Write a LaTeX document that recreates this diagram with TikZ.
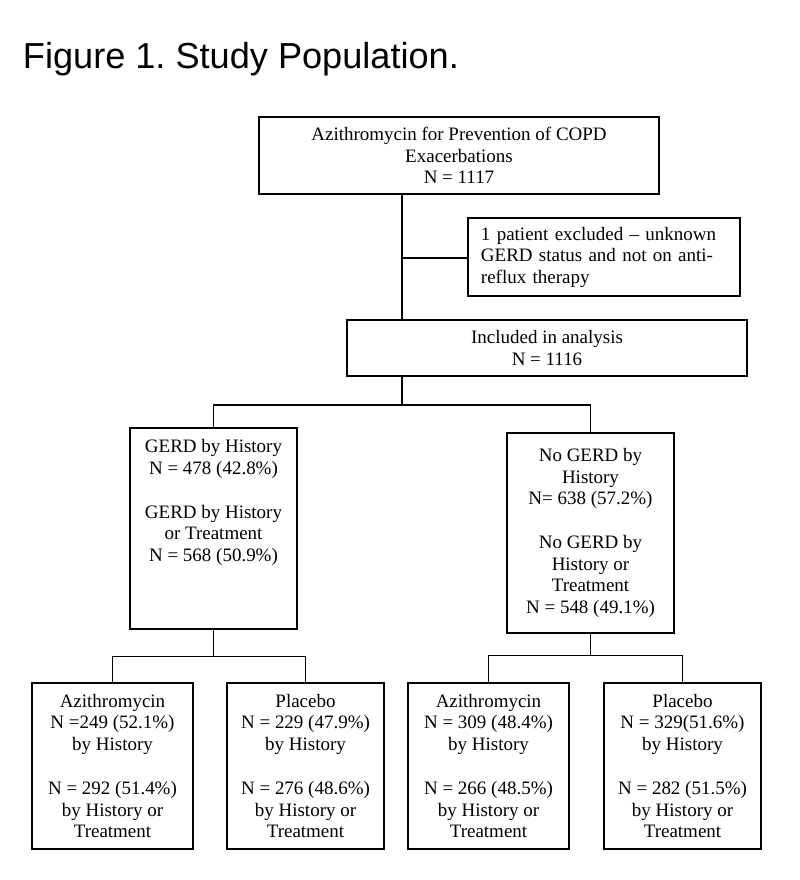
\documentclass[tikz,border=0pt]{standalone}
\usepackage{fontspec}
\setmainfont{Liberation Serif}
\newfontfamily\titlefont{Liberation Sans}
\frenchspacing

\begin{document}
\begin{tikzpicture}[x=0.025cm,y=-0.025cm,
        box/.style={draw,line width=1pt,align=center,inner sep=0pt,font=\fontsize{13.5}{15.3}\selectfont},
        link/.style={line width=1pt}]
    \useasboundingbox (0,0) rectangle (800,880);

    \node[anchor=base west,font=\titlefont\fontsize{25.7}{30}\selectfont] (title) at (18,69) {Figure 1. Study Population.};

    % top of the flow
    \node[box,minimum width=10cm,minimum height=1.925cm] (top) at (459,155.5)
        {Azithromycin for Prevention of COPD\\Exacerbations\\N = 1117};
    \node[box,align=left,text width=6.15cm,inner xsep=0.325cm,minimum height=1.95cm] (excl) at (604,257)
        {1 patient excluded -- unknown\\GERD status and not on anti-\\reflux therapy};
    \node[box,minimum width=10cm,minimum height=1.4cm] (incl) at (547,348)
        {Included in analysis\\N = 1116};

    % GERD groups
    \node[box,minimum width=4.175cm,minimum height=5.025cm,text depth=1.4cm] (gerd) at (213.5,528.5)
        {GERD by History\\N = 478 (42.8\%)\\[16pt]GERD by History\\or Treatment\\N = 568 (50.9\%)};
    \node[box,minimum width=4.175cm,minimum height=5cm] (nogerd) at (590.5,533)
        {No GERD by\\History\\N= 638 (57.2\%)\\[16pt]No GERD by\\History or\\Treatment\\N = 548 (49.1\%)};

    % treatment arms
    \node[box,minimum width=4.025cm,minimum height=4.15cm] (azg) at (112.5,766)
        {Azithromycin\\N =249 (52.1\%)\\by History\\[16pt]N = 292 (51.4\%)\\by History or\\Treatment};
    \node[box,minimum width=3.925cm,minimum height=4.15cm] (plg) at (305.5,766)
        {Placebo\\N = 229 (47.9\%)\\by History\\[16pt]N = 276 (48.6\%)\\by History or\\Treatment};
    \node[box,minimum width=4.025cm,minimum height=4.15cm] (azn) at (488.5,766)
        {Azithromycin\\N = 309 (48.4\%)\\by History\\[16pt]N = 266 (48.5\%)\\by History or\\Treatment};
    \node[box,minimum width=3.925cm,minimum height=4.15cm] (pln) at (682.5,766)
        {Placebo\\N = 329(51.6\%)\\by History\\[16pt]N = 282 (51.5\%)\\by History or\\Treatment};

    % connectors
    \coordinate (s1) at (402,258);
    \coordinate (s2) at (402,405);
    \draw[link] (top.south -| s1) -- (incl.north -| s1);
    \draw[link] (s1) -- (s1 -| excl.west);
    \draw[link] (incl.south -| s2) -- (s2);
    \draw[link] (gerd.north) |- (s2) -| (nogerd.north);

    \draw[link] (gerd.south) -- ++(0,27) coordinate (s3);
    \draw[link] (azg.north) |- (s3) -| (plg.north);
    \draw[link] (nogerd.south) -- ++(0,22) coordinate (s4);
    \draw[link] (azn.north) |- (s4) -| (pln.north);
\end{tikzpicture}
\end{document}
